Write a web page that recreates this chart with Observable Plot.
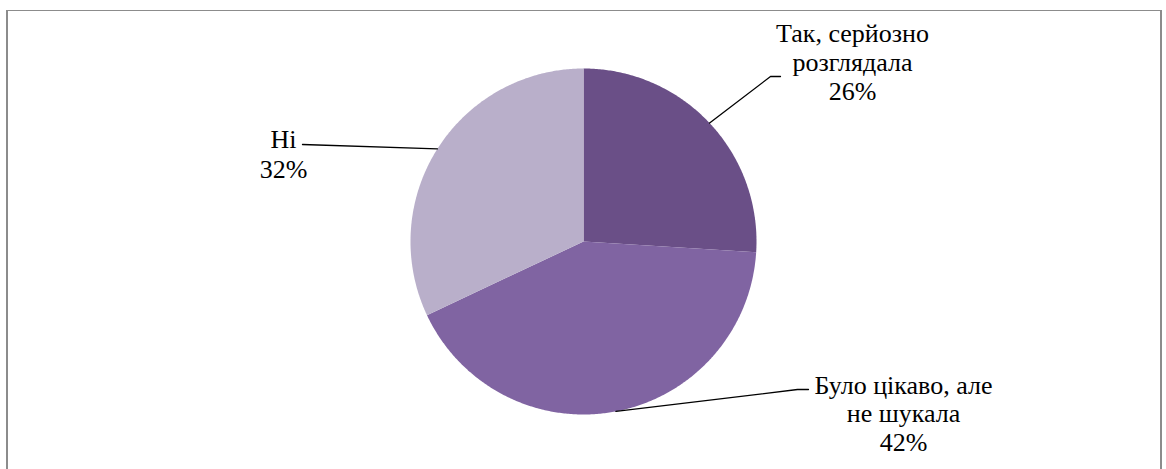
<!DOCTYPE html>
<html>
<head>
<meta charset="utf-8">
<script src="https://cdn.jsdelivr.net/npm/d3@7"></script>
<script src="https://cdn.jsdelivr.net/npm/@observablehq/plot@0.6"></script>
<style>
  html, body { margin: 0; padding: 0; background: #fff; }
  #wrap { position: relative; width: 1166px; height: 469px; overflow: hidden; }
  #frame { position: absolute; left: 6px; top: 10px; width: 1152px; height: 600px;
           border-left: 2px solid #8c8c8c; border-right: 2px solid #8c8c8c; border-top: 1px solid #8c8c8c; }
  #chart { position: absolute; left: 0; top: 0; }
</style>
</head>
<body>
<div id="wrap"><div id="frame"></div><div id="chart"></div></div>
<script>
// ---- data ----
const categories = ["Так, серйозно розглядала", "Було цікаво, але не шукала", "Ні"];
const values = [26, 42, 32];
const percentLabels = ["26%", "42%", "32%"];
const labelLines = [["Так, серйозно", "розглядала"], ["Було цікаво, але", "не шукала"], ["Ні"]];
const sliceColors = ["#6a4f87", "#8064a2", "#b9afca"];

// ---- layout (pixels) ----
const W = 1166, H = 469, CX = 583, CY = 241, R = 173;
const fontSize = 26;
const serif = "Liberation Serif, Times New Roman, serif";
// label: center x, baseline of first line, line spacing (px), leader points after the rim
const labelLayout = [
  {x: 852, base: 41.5, spacing: 29, leader: [[770, 76], [780, 76]]},
  {x: 903, base: 393, spacing: 29, leader: [[797, 389], [808, 389]]},
  {x: 283, base: 147, spacing: 31, leader: [[302, 144]]}
];

// convert pixel layout to chart units (radius = 1, y up)
const ux = px => (px - CX) / R;
const uy = py => (CY - py) / R;

const arcs = d3.pie().sort(null).value(d => d)(values);

const slices = arcs.map((a, i) => {
  const pts = [{x: 0, y: 0}];
  const n = Math.max(2, Math.ceil((a.endAngle - a.startAngle) / (Math.PI / 360)));
  for (let k = 0; k <= n; k++) {
    const t = a.startAngle + (a.endAngle - a.startAngle) * k / n;
    pts.push({x: Math.sin(t), y: Math.cos(t)});
  }
  return {name: categories[i], color: sliceColors[i], pts};
});

const leaders = arcs.map((a, i) => {
  const mid = (a.startAngle + a.endAngle) / 2;
  const pts = [{x: Math.sin(mid), y: Math.cos(mid)}];
  for (const [px, py] of labelLayout[i].leader) pts.push({x: ux(px), y: uy(py)});
  return pts;
});

const labels = categories.map((c, i) => {
  const L = labelLayout[i];
  const lh = L.spacing / fontSize;
  return {
    text: [...labelLines[i], percentLabels[i]].join("\n"),
    x: ux(L.x),
    y: uy(L.base - 0.71 * lh * fontSize),
    lh
  };
});

const marks = [];
for (const s of slices) {
  marks.push(Plot.line(s.pts, {x: "x", y: "y", fill: s.color, stroke: "none"}));
}
for (const l of leaders) {
  marks.push(Plot.line(l, {x: "x", y: "y", stroke: "#000", strokeWidth: 1.3}));
}
for (const lb of labels) {
  marks.push(Plot.text([lb], {x: "x", y: "y", text: "text", textAnchor: "middle",
    lineAnchor: "top", lineHeight: lb.lh, fontSize, fontFamily: serif, fill: "#000"}));
}

const chart = Plot.plot({
  width: W, height: H,
  marginTop: 0, marginRight: 0, marginBottom: 0, marginLeft: 0,
  style: {fontFamily: serif, background: "transparent"},
  x: {domain: [ux(0), ux(W)], axis: null},
  y: {domain: [uy(H), uy(0)], axis: null},
  marks
});
document.getElementById("chart").appendChild(chart);
</script>
</body>
</html>
